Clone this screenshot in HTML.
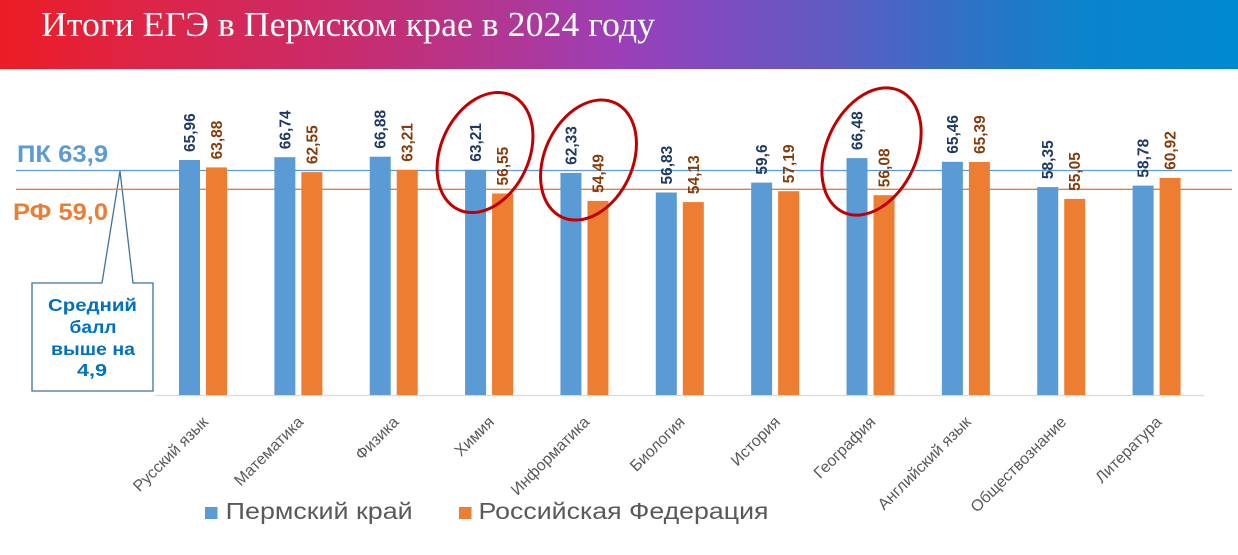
<!DOCTYPE html>
<html>
<head>
<meta charset="utf-8">
<style>
html,body{margin:0;padding:0;background:#fff;}
svg{display:block;}
</style>
</head>
<body>
<svg width="1238" height="555" viewBox="0 0 1238 555" xmlns="http://www.w3.org/2000/svg">
<defs>
<linearGradient id="hdr" x1="0" y1="0" x2="1" y2="0">
<stop offset="0" stop-color="#ed1c24"/>
<stop offset="0.12" stop-color="#dc2548"/>
<stop offset="0.28" stop-color="#c82c6c"/>
<stop offset="0.42" stop-color="#ae3898"/>
<stop offset="0.50" stop-color="#9c3fb8"/>
<stop offset="0.58" stop-color="#7f4bc0"/>
<stop offset="0.68" stop-color="#5c5cc2"/>
<stop offset="0.78" stop-color="#2f72c6"/>
<stop offset="0.88" stop-color="#0a84cc"/>
<stop offset="1" stop-color="#0089d1"/>
</linearGradient>
</defs>

<!-- Header -->
<rect x="0" y="0" width="1238" height="69" fill="url(#hdr)"/>
<text x="41" y="36" font-family="'Liberation Serif', serif" font-size="35" fill="#ffffff" textLength="614" lengthAdjust="spacingAndGlyphs">Итоги ЕГЭ в Пермском крае в 2024 году</text>

<!-- Callout -->
<polygon points="32,283 102,283 120,171 133,283 153,283 153,391 32,391" fill="#ffffff" stroke="#41719c" stroke-width="1.3"/>
<g font-family="'Liberation Sans', sans-serif" font-weight="bold" font-size="17.5" fill="#0070c0" text-anchor="middle">
<text x="92.5" y="311" textLength="89" lengthAdjust="spacingAndGlyphs">Средний</text>
<text x="93" y="333" textLength="47" lengthAdjust="spacingAndGlyphs">балл</text>
<text x="93" y="355" textLength="84" lengthAdjust="spacingAndGlyphs">выше на</text>
<text x="92" y="376" textLength="30" lengthAdjust="spacingAndGlyphs">4,9</text>
</g>

<!-- Reference lines -->
<line x1="16" y1="170.5" x2="1232" y2="170.5" stroke="#5b9bd5" stroke-width="1.3"/>
<line x1="16" y1="189.3" x2="1232" y2="189.3" stroke="#ed7d31" stroke-width="1.3"/>

<text x="17" y="162" font-family="'Liberation Sans', sans-serif" font-weight="bold" font-size="24" fill="#5b9bd5" textLength="91" lengthAdjust="spacingAndGlyphs">ПК 63,9</text>
<text x="13" y="220" font-family="'Liberation Sans', sans-serif" font-weight="bold" font-size="24" fill="#ed7d31" textLength="95" lengthAdjust="spacingAndGlyphs">РФ 59,0</text>

<!-- Axis -->
<line x1="155" y1="395.5" x2="1204" y2="395.5" stroke="#d9d9d9" stroke-width="1.3"/>

<!-- Bars -->
<g fill="#5b9bd5">
<rect x="179" y="160.0" width="21" height="235.0"/>
<rect x="274.36" y="157.2" width="21" height="237.8"/>
<rect x="369.72" y="156.7" width="21" height="238.3"/>
<rect x="465.08" y="169.8" width="21" height="225.2"/>
<rect x="560.44" y="172.9" width="21" height="222.1"/>
<rect x="655.8" y="192.5" width="21" height="202.5"/>
<rect x="751.16" y="182.6" width="21" height="212.4"/>
<rect x="846.52" y="158.1" width="21" height="236.9"/>
<rect x="941.88" y="161.8" width="21" height="233.2"/>
<rect x="1037.24" y="187.1" width="21" height="207.9"/>
<rect x="1132.6" y="185.6" width="21" height="209.4"/>
</g>
<g fill="#ed7d31">
<rect x="206" y="167.4" width="21" height="227.6"/>
<rect x="301.36" y="172.1" width="21" height="222.9"/>
<rect x="396.72" y="169.8" width="21" height="225.2"/>
<rect x="492.08" y="193.5" width="21" height="201.5"/>
<rect x="587.44" y="200.9" width="21" height="194.1"/>
<rect x="682.8" y="202.1" width="21" height="192.9"/>
<rect x="778.16" y="191.2" width="21" height="203.8"/>
<rect x="873.52" y="195.2" width="21" height="199.8"/>
<rect x="968.88" y="162.0" width="21" height="233.0"/>
<rect x="1064.24" y="198.9" width="21" height="196.1"/>
<rect x="1159.6" y="177.9" width="21" height="217.1"/>
</g>

<!-- Value labels PK -->
<g font-family="'Liberation Sans', sans-serif" font-weight="bold" font-size="15.5" fill="#1f3864">
<text transform="translate(195,152) rotate(-90)">65,96</text>
<text transform="translate(290.36,149.2) rotate(-90)">66,74</text>
<text transform="translate(385.72,148.7) rotate(-90)">66,88</text>
<text transform="translate(481.08,161.8) rotate(-90)">63,21</text>
<text transform="translate(576.44,164.9) rotate(-90)">62,33</text>
<text transform="translate(671.8,184.5) rotate(-90)">56,83</text>
<text transform="translate(767.16,174.6) rotate(-90)">59,6</text>
<text transform="translate(862.52,150.1) rotate(-90)">66,48</text>
<text transform="translate(957.88,153.8) rotate(-90)">65,46</text>
<text transform="translate(1053.24,179.1) rotate(-90)">58,35</text>
<text transform="translate(1148.6,177.6) rotate(-90)">58,78</text>
</g>
<!-- Value labels RF -->
<g font-family="'Liberation Sans', sans-serif" font-weight="bold" font-size="15.5" fill="#843c0c">
<text transform="translate(222,159.4) rotate(-90)">63,88</text>
<text transform="translate(317.36,164.1) rotate(-90)">62,55</text>
<text transform="translate(412.72,161.8) rotate(-90)">63,21</text>
<text transform="translate(508.08,185.5) rotate(-90)">56,55</text>
<text transform="translate(603.44,192.9) rotate(-90)">54,49</text>
<text transform="translate(698.8,194.1) rotate(-90)">54,13</text>
<text transform="translate(794.16,183.2) rotate(-90)">57,19</text>
<text transform="translate(889.52,187.2) rotate(-90)">56,08</text>
<text transform="translate(984.88,154.0) rotate(-90)">65,39</text>
<text transform="translate(1080.24,190.9) rotate(-90)">55,05</text>
<text transform="translate(1175.6,169.9) rotate(-90)">60,92</text>
</g>

<!-- Ellipses -->
<g fill="none" stroke="#c00000" stroke-width="3">
<ellipse cx="485" cy="152.5" rx="44" ry="63" transform="rotate(25 485 152.5)"/>
<ellipse cx="588.5" cy="160" rx="44" ry="63" transform="rotate(25 588.5 160)"/>
<ellipse cx="871.5" cy="151.5" rx="45" ry="67" transform="rotate(25 871.5 151.5)"/>
</g>

<!-- Category labels -->
<g font-family="'Liberation Sans', sans-serif" font-size="16" fill="#595959" text-anchor="end">
<text transform="translate(209,423) rotate(-45)">Русский язык</text>
<text transform="translate(304.36,423) rotate(-45)">Математика</text>
<text transform="translate(399.72,423) rotate(-45)">Физика</text>
<text transform="translate(495.08,423) rotate(-45)">Химия</text>
<text transform="translate(590.44,423) rotate(-45)">Информатика</text>
<text transform="translate(685.8,423) rotate(-45)">Биология</text>
<text transform="translate(781.16,423) rotate(-45)">История</text>
<text transform="translate(876.52,423) rotate(-45)">География</text>
<text transform="translate(971.88,423) rotate(-45)">Английский язык</text>
<text transform="translate(1067.24,423) rotate(-45)">Обществознание</text>
<text transform="translate(1162.6,423) rotate(-45)">Литература</text>
</g>

<!-- Legend -->
<rect x="205" y="507" width="12.5" height="12" fill="#5b9bd5"/>
<text x="225.7" y="519" font-family="'Liberation Sans', sans-serif" font-size="23" fill="#595959" textLength="187" lengthAdjust="spacingAndGlyphs">Пермский край</text>
<rect x="459" y="507" width="12.5" height="12" fill="#ed7d31"/>
<text x="478.5" y="519" font-family="'Liberation Sans', sans-serif" font-size="23" fill="#595959" textLength="290" lengthAdjust="spacingAndGlyphs">Российская Федерация</text>
</svg>
</body>
</html>
